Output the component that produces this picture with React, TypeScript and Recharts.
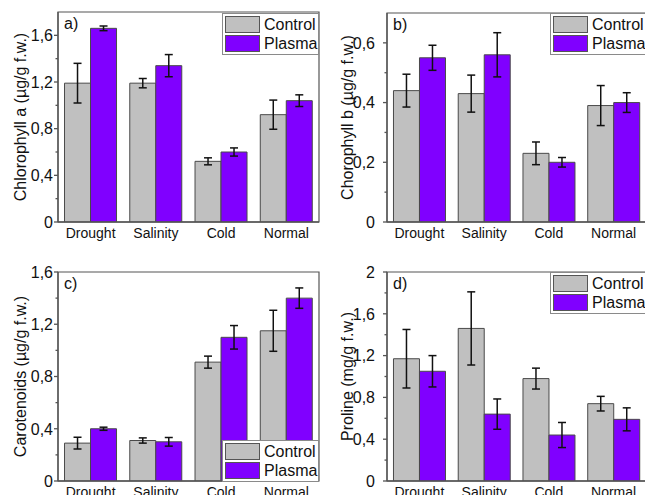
import React from "react";
import { BarChart, Bar, XAxis, YAxis, ErrorBar, Legend, ReferenceArea } from "recharts";

const categories = ["Drought", "Salinity", "Cold", "Normal"];
const seriesNames = ["Control", "Plasma"];

// a) chlorophyll a
const chlAControl = [1.19, 1.19, 0.52, 0.92];
const chlAControlErr = [0.17, 0.04, 0.03, 0.125];
const chlAPlasma = [1.66, 1.34, 0.6, 1.04];
const chlAPlasmaErr = [0.02, 0.095, 0.035, 0.05];

// b) chlorophyll b
const chlBControl = [0.44, 0.43, 0.23, 0.39];
const chlBControlErr = [0.055, 0.062, 0.038, 0.067];
const chlBPlasma = [0.55, 0.56, 0.2, 0.4];
const chlBPlasmaErr = [0.042, 0.074, 0.016, 0.033];

// c) carotenoids
const carControl = [0.29, 0.31, 0.91, 1.15];
const carControlErr = [0.045, 0.02, 0.046, 0.157];
const carPlasma = [0.4, 0.3, 1.1, 1.4];
const carPlasmaErr = [0.012, 0.033, 0.09, 0.078];

// d) proline
const proControl = [1.17, 1.46, 0.98, 0.74];
const proControlErr = [0.28, 0.35, 0.1, 0.07];
const proPlasma = [1.05, 0.64, 0.44, 0.59];
const proPlasmaErr = [0.15, 0.145, 0.12, 0.11];

// y ticks
const majorsA = [0, 0.4, 0.8, 1.2, 1.6];
const minorsA = [0.2, 0.6, 1.0, 1.4];
const majorsB = [0, 0.2, 0.4, 0.6];
const minorsB = [0.1, 0.3, 0.5];
const majorsC = [0, 0.4, 0.8, 1.2, 1.6];
const minorsC = [0.2, 0.6, 1.0, 1.4];
const majorsD = [0, 0.4, 0.8, 1.2, 1.6, 2];
const minorsD = [0.2, 0.6, 1.0, 1.4, 1.8];

const FONT = "'Liberation Sans', Arial, sans-serif";
const GREY = "#c0c0c0";
const VIOLET = "#8000ff";
const AXIS = "#555555";

function buildRows(ctrl: number[], ctrlErr: number[], pls: number[], plsErr: number[]) {
  return categories.map((name, i) => ({
    name,
    control: ctrl[i],
    controlErr: ctrlErr[i],
    plasma: pls[i],
    plasmaErr: plsErr[i],
  }));
}

const fmt = (v: number) => (Number.isInteger(v) ? String(v) : v.toFixed(1).replace(".", ","));

function YTick(props: any) {
  const { x, y, payload, majors, gap } = props;
  const v = payload.value;
  const isMajor = majors.some((m: number) => Math.abs(m - v) < 1e-6);
  const len = isMajor ? 4 : 2.5;
  return (
    <g>
      <line x1={x - len} x2={x} y1={y} y2={y} stroke={AXIS} strokeWidth={1.3} />
      {isMajor && (
        <text x={x - 4 - gap} y={y} dy="0.36em" textAnchor="end" fontSize={16} fill="#111">
          {fmt(v)}
        </text>
      )}
    </g>
  );
}

function LegendBox(props: any) {
  const { payload } = props;
  return (
    <div style={{ background: "#fff", border: "1px solid #8a8a8a", padding: "1px 2px", width: 97, boxSizing: "border-box", fontFamily: FONT, fontSize: 16, color: "#111" }}>
      {payload.map((p: any) => (
        <div key={p.value} style={{ display: "flex", alignItems: "center", height: 19 }}>
          <span style={{ width: 35, height: 17, background: p.color, border: "1px solid #555", boxSizing: "border-box", marginRight: 4, flexShrink: 0 }} />
          <span style={{ lineHeight: 1, whiteSpace: "nowrap" }}>{p.value}</span>
        </div>
      ))}
    </div>
  );
}

type PanelProps = {
  left: number; top: number; width: number; height: number;
  marginTop: number; marginRight: number; yWidth: number;
  rows: any[]; domainMax: number; majors: number[]; minors: number[];
  title: string; titleDx: number; letter: string; gap: number;
  legendLeft: number; legendTop: number;
};

function Panel(p: PanelProps) {
  const ticks = [...p.majors, ...p.minors].sort((a, b) => a - b);
  return (
    <div style={{ position: "absolute", left: p.left, top: p.top }}>
      <BarChart
        width={p.width}
        height={p.height}
        data={p.rows}
        margin={{ top: p.marginTop, right: p.marginRight, left: 0, bottom: 0 }}
        barCategoryGap="10%"
        barGap={0}
        style={{ fontFamily: FONT }}
      >
        <XAxis
          dataKey="name"
          tickLine={false}
          tickSize={4}
          tickMargin={2}
          height={28}
          interval={0}
          axisLine={{ stroke: AXIS, strokeWidth: 1.3 }}
          tick={{ fontSize: 14, fill: "#111" }}
        />
        <YAxis
          width={p.yWidth}
          domain={[0, p.domainMax]}
          allowDataOverflow
          ticks={ticks}
          interval={0}
          tickLine={false}
          tickSize={0}
          tickMargin={0}
          axisLine={{ stroke: AXIS, strokeWidth: 1.3 }}
          tick={(tp: any) => <YTick {...tp} majors={p.majors} gap={p.gap} />}
          label={{ value: p.title, angle: -90, position: "center", dx: p.titleDx, fontSize: 16, fill: "#111" }}
        />
        <ReferenceArea
          y1={0}
          y2={p.domainMax}
          fill="none"
          stroke={AXIS}
          strokeWidth={1.2}
          ifOverflow="visible"
          label={{ value: p.letter, position: "insideTopLeft", offset: 6, fontSize: 16, fill: "#111" }}
        />
        <Bar dataKey="control" name={seriesNames[0]} fill={GREY} stroke="#4a4a4a" strokeWidth={1} isAnimationActive={false}>
          <ErrorBar dataKey="controlErr" width={4} stroke="#111" strokeWidth={1.5} isAnimationActive={false} />
        </Bar>
        <Bar dataKey="plasma" name={seriesNames[1]} fill={VIOLET} stroke="#4a4a4a" strokeWidth={1} isAnimationActive={false}>
          <ErrorBar dataKey="plasmaErr" width={4} stroke="#111" strokeWidth={1.5} isAnimationActive={false} />
        </Bar>
        <Legend
          content={LegendBox}
          layout="vertical"
          align="center"
          verticalAlign="middle"
          wrapperStyle={{ left: p.legendLeft, top: p.legendTop, width: 97 }}
        />
      </BarChart>
    </div>
  );
}

export default function App() {
  return (
    <div style={{ position: "fixed", left: 0, top: 0, width: 645, height: 495, overflow: "hidden", background: "#fff" }}>
      <Panel
        left={0} top={0} width={322} height={250} marginTop={12} marginRight={3} yWidth={58}
        rows={buildRows(chlAControl, chlAControlErr, chlAPlasma, chlAPlasmaErr)}
        domainMax={1.8} majors={majorsA} minors={minorsA}
        title="Chlorophyll a (µg/g f.w.)" titleDx={-9} letter="a)" gap={1}
        legendLeft={222} legendTop={13}
      />
      <Panel
        left={322} top={0} width={330} height={250} marginTop={13} marginRight={6} yWidth={65}
        rows={buildRows(chlBControl, chlBControlErr, chlBPlasma, chlBPlasmaErr)}
        domainMax={0.7} majors={majorsB} minors={minorsB}
        title="Chorophyll b (µg/g f.w.)" titleDx={-7} letter="b)" gap={8}
        legendLeft={228} legendTop={13}
      />
      <Panel
        left={0} top={260} width={322} height={249} marginTop={12} marginRight={3} yWidth={58}
        rows={buildRows(carControl, carControlErr, carPlasma, carPlasmaErr)}
        domainMax={1.6} majors={majorsC} minors={minorsC}
        title="Carotenoids (µg/g f.w.)" titleDx={-9} letter="c)" gap={1}
        legendLeft={222} legendTop={180}
      />
      <Panel
        left={322} top={260} width={330} height={249} marginTop={12} marginRight={6} yWidth={65}
        rows={buildRows(proControl, proControlErr, proPlasma, proPlasmaErr)}
        domainMax={2} majors={majorsD} minors={minorsD}
        title="Proline (mg/g f.w.)" titleDx={-7} letter="d)" gap={8}
        legendLeft={228} legendTop={12}
      />
    </div>
  );
}
